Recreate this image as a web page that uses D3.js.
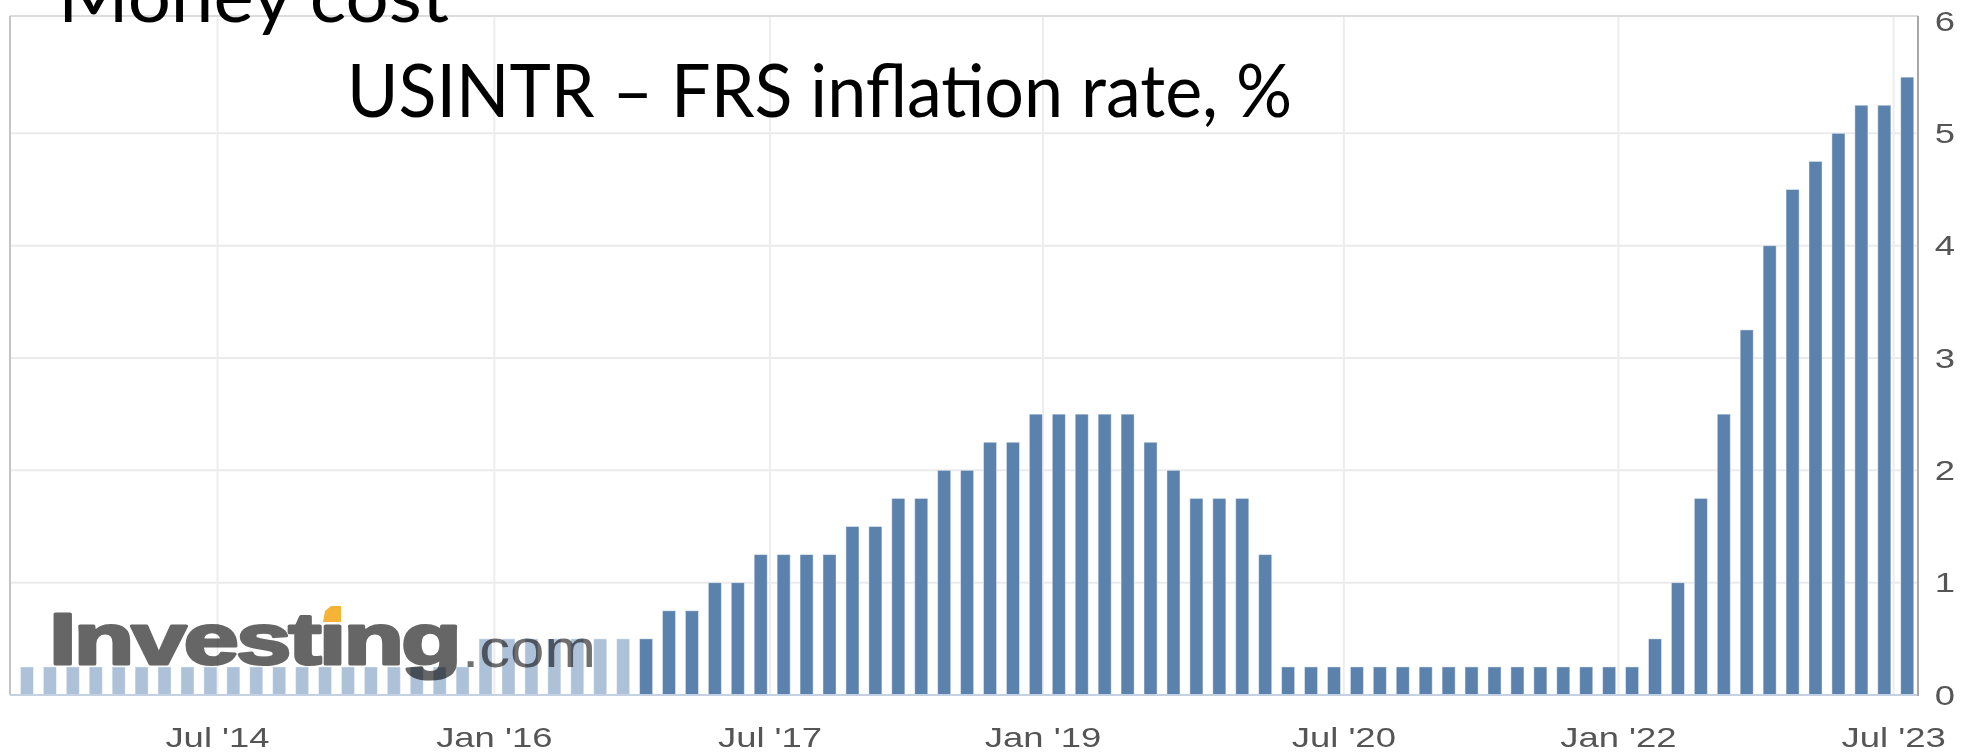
<!DOCTYPE html>
<html>
<head>
<meta charset="utf-8">
<script src="https://cdn.jsdelivr.net/npm/d3@7"></script>
<style>
  html, body { margin: 0; padding: 0; background: #fff; overflow: hidden; }
  svg { display: block; }
</style>
</head>
<body>
<svg id="chart" width="1967" height="754"></svg>
<script>
// FOMC decision dates shown as bars (one slot each)
const meetingDates = [
  "2013-06-19", "2013-07-31", "2013-09-18", "2013-10-30", "2013-12-18",
  "2014-01-29", "2014-03-19", "2014-04-30", "2014-06-18", "2014-07-30", "2014-09-17", "2014-10-29", "2014-12-17",
  "2015-01-28", "2015-03-18", "2015-04-29", "2015-06-17", "2015-07-29", "2015-09-17", "2015-10-28", "2015-12-16",
  "2016-01-27", "2016-03-16", "2016-04-27", "2016-06-15", "2016-07-27", "2016-09-21", "2016-11-02", "2016-12-14",
  "2017-02-01", "2017-03-15", "2017-05-03", "2017-06-14", "2017-07-26", "2017-09-20", "2017-11-01", "2017-12-13",
  "2018-01-31", "2018-03-21", "2018-05-02", "2018-06-13", "2018-08-01", "2018-09-26", "2018-11-08", "2018-12-19",
  "2019-01-30", "2019-03-20", "2019-05-01", "2019-06-19", "2019-07-31", "2019-09-18", "2019-10-30", "2019-12-11",
  "2020-01-29", "2020-03-03", "2020-03-15", "2020-04-29", "2020-06-10", "2020-07-29", "2020-09-16", "2020-11-05", "2020-12-16",
  "2021-01-27", "2021-03-17", "2021-04-28", "2021-06-16", "2021-07-28", "2021-09-22", "2021-11-03", "2021-12-15",
  "2022-01-26", "2022-03-16", "2022-05-04", "2022-06-15", "2022-07-27", "2022-09-21", "2022-11-02", "2022-12-14",
  "2023-02-01", "2023-03-22", "2023-05-03", "2023-06-14", "2023-07-26"
];

// upper bound of the rate, %
const rates = [
  0.25, 0.25, 0.25, 0.25, 0.25,
  0.25, 0.25, 0.25, 0.25, 0.25, 0.25, 0.25, 0.25,
  0.25, 0.25, 0.25, 0.25, 0.25, 0.25, 0.25, 0.50,
  0.50, 0.50, 0.50, 0.50, 0.50, 0.50, 0.50, 0.75,
  0.75, 1.00, 1.00, 1.25, 1.25, 1.25, 1.25, 1.50,
  1.50, 1.75, 1.75, 2.00, 2.00, 2.25, 2.25, 2.50,
  2.50, 2.50, 2.50, 2.50, 2.25, 2.00, 1.75, 1.75,
  1.75, 1.25, 0.25, 0.25, 0.25, 0.25, 0.25, 0.25, 0.25,
  0.25, 0.25, 0.25, 0.25, 0.25, 0.25, 0.25, 0.25,
  0.25, 0.50, 1.00, 1.75, 2.50, 3.25, 4.00, 4.50,
  4.75, 5.00, 5.25, 5.25, 5.50
];

const tickDates = ["2014-07-01", "2016-01-01", "2017-07-01", "2019-01-01", "2020-07-01", "2022-01-01", "2023-07-01"];
const tickLabels = ["Jul '14", "Jan '16", "Jul '17", "Jan '19", "Jul '20", "Jan '22", "Jul '23"];
const yTicks = [0, 1, 2, 3, 4, 5, 6];
const fadedCount = 27; // first bars drawn in the pale colour

const parse = d3.timeParse("%Y-%m-%d");
const dates = meetingDates.map(parse);
const data = dates.map((d, i) => ({ date: d, value: rates[i], i: i }));

const svg = d3.select("#chart");
const plotLeft = 10, plotRight = 1918, plotTop = 16, plotBottom = 695;

const x = d3.scaleBand()
  .domain(d3.range(data.length))
  .range([15.5, 1918.7])
  .paddingInner(0.43)
  .paddingOuter(0.215);

const y = d3.scaleLinear().domain([0, 6]).range([plotBottom, 21]);

// fractional slot position of a calendar date (axis is one slot per meeting)
const slot = d3.scaleLinear()
  .domain([0, data.length - 1])
  .range([x(0) + x.bandwidth() / 2, x(data.length - 1) + x.bandwidth() / 2]);
const bis = d3.bisector(d => d).right;
function dateToPx(t) {
  const i = Math.max(0, Math.min(dates.length - 2, bis(dates, t) - 1));
  const f = (t - dates[i]) / (dates[i + 1] - dates[i]);
  return slot(i + f);
}
const ticks = tickDates.map((s, k) => ({ px: dateToPx(parse(s)), label: tickLabels[k] }));

// grid
svg.append("g").selectAll("line").data(yTicks.filter(v => v > 0 && v < 6)).enter()
  .append("line")
  .attr("x1", plotLeft).attr("x2", plotRight)
  .attr("y1", d => y(d)).attr("y2", d => y(d))
  .attr("stroke", "#ebebeb").attr("stroke-width", 2);

svg.append("g").selectAll("line").data(ticks).enter()
  .append("line")
  .attr("x1", d => d.px).attr("x2", d => d.px)
  .attr("y1", plotTop).attr("y2", plotBottom)
  .attr("stroke", "#ededed").attr("stroke-width", 2);

// frame
svg.append("line").attr("x1", plotLeft).attr("x2", plotRight).attr("y1", plotTop).attr("y2", plotTop)
  .attr("stroke", "#dcdcdc").attr("stroke-width", 2);
svg.append("line").attr("x1", plotLeft).attr("x2", plotLeft).attr("y1", plotTop).attr("y2", plotBottom)
  .attr("stroke", "#c4c4c4").attr("stroke-width", 2);

// bars
svg.append("g").selectAll("rect").data(data).enter()
  .append("rect")
  .attr("x", d => x(d.i))
  .attr("width", x.bandwidth())
  .attr("y", d => y(d.value))
  .attr("height", d => y(0) - y(d.value))
  .attr("fill", d => d.i < fadedCount ? "#adc1d9" : "#5b81ad")
  .attr("stroke", "#ffffff").attr("stroke-opacity", 0.45).attr("stroke-width", 1);

// baseline and right axis line
svg.append("line").attr("x1", plotLeft).attr("x2", plotRight).attr("y1", plotBottom).attr("y2", plotBottom)
  .attr("stroke", "#c3d1e2").attr("stroke-width", 2);
svg.append("line").attr("x1", plotRight).attr("x2", plotRight).attr("y1", plotTop).attr("y2", plotBottom + 1)
  .attr("stroke", "#a8a8a8").attr("stroke-width", 2);

// axis labels (the source picture is stretched sideways)
const sx = 1.35;
svg.append("g").selectAll("text").data(ticks).enter()
  .append("text")
  .attr("transform", d => `translate(${d.px},747) scale(${sx},1)`)
  .attr("text-anchor", "middle")
  .attr("font-family", "'Liberation Sans', Arial, sans-serif")
  .attr("font-size", 27)
  .attr("fill", "#555")
  .text(d => d.label);

svg.append("g").selectAll("text").data(yTicks).enter()
  .append("text")
  .attr("transform", d => `translate(1945,${y(d) + 9.5}) scale(${sx},1)`)
  .attr("text-anchor", "middle")
  .attr("font-family", "'Liberation Sans', Arial, sans-serif")
  .attr("font-size", 27)
  .attr("fill", "#555")
  .text(d => d);

// watermark
const wm = svg.append("g").style("mix-blend-mode", "multiply");
function fitText(sel, x0, base, width) {
  const w = sel.node().getComputedTextLength();
  sel.attr("transform", `translate(${x0},${base}) scale(${width / w},1)`);
}
const inv = wm.append("text")
  .attr("font-family", "'Liberation Sans', Arial, sans-serif")
  .attr("font-weight", "bold")
  .attr("font-size", 72)
  .attr("letter-spacing", -2)
  .attr("fill", "#666")
  .attr("stroke", "#666").attr("stroke-width", 3).attr("stroke-linejoin", "round")
  .text("Invest\u0131ng");
fitText(inv, 49, 664, 410);
const com = wm.append("text")
  .attr("font-family", "'Liberation Sans', Arial, sans-serif")
  .attr("font-size", 54)
  .attr("fill", "#707070")
  .text(".com");
fitText(com, 462, 667, 134);
wm.append("polygon")
  .attr("points", "325,611 331,606 341,606 341,622 323,622")
  .attr("fill", "#f5b338");

// titles
const title1 = svg.append("text")
  .attr("font-family", "Lato, 'Open Sans', sans-serif")
  .attr("font-size", 73)
  .attr("fill", "#000")
  .attr("x", 58).attr("y", 22)
  .text("Money cost");
title1.attr("textLength", 391).attr("lengthAdjust", "spacingAndGlyphs");

const title2 = svg.append("text")
  .attr("font-family", "Lato, 'Open Sans', sans-serif")
  .attr("font-size", 73)
  .attr("fill", "#000")
  .attr("x", 347).attr("y", 117)
  .text("USINTR \u2013 FRS inflation rate, %");
title2.attr("textLength", 945).attr("lengthAdjust", "spacingAndGlyphs");
</script>
</body>
</html>
